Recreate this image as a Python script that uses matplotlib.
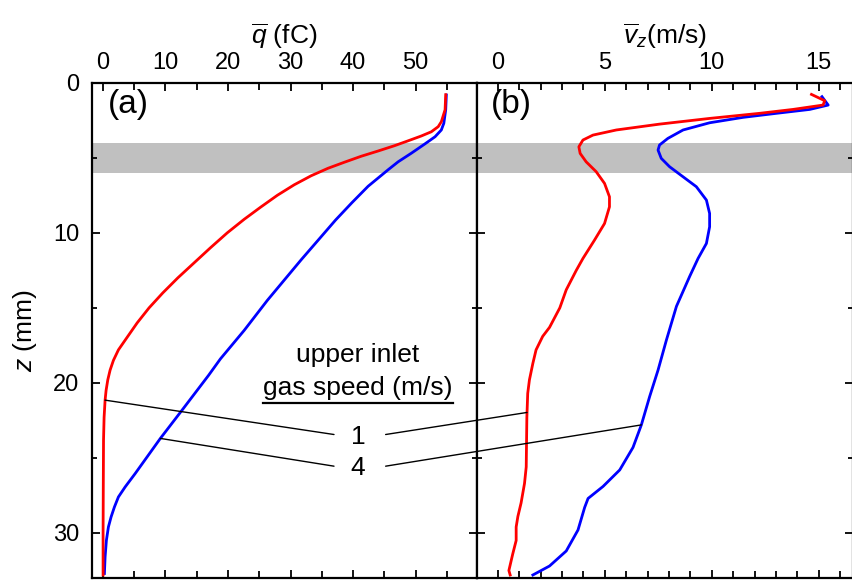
import numpy as np
import matplotlib.pyplot as plt
from matplotlib.patches import ConnectionPatch
from matplotlib.ticker import MultipleLocator

plt.rcParams['font.family'] = ['Liberation Sans', 'DejaVu Sans']
plt.rcParams['mathtext.fontset'] = 'custom'
plt.rcParams['mathtext.rm'] = 'Liberation Sans'
plt.rcParams['mathtext.it'] = 'Liberation Sans:italic'

# (a) mean charge vs height, upper inlet gas speed 1 m/s (red) and 4 m/s (blue)
z_q1 = [0.8, 1.8, 2.6, 2.93, 3.27, 3.55, 3.87, 4.2, 4.55, 4.9, 5.3, 5.7, 6.2, 6.8, 7.5,
        8.3, 9.1, 10.0, 11.0, 12.0, 13.0, 14.0, 15.0, 16.0, 17.15, 17.8, 18.5, 19.15,
        19.8, 20.5, 21.15, 22.3, 23.8, 27.0, 30.0, 32.8]
q1 = [54.8, 54.7, 54.1, 53.6, 52.5, 50.9, 48.8, 46.6, 44.0, 41.3, 38.6, 36.0, 33.3, 30.6, 27.9,
      25.2, 22.6, 19.9, 17.2, 14.6, 12.0, 9.6, 7.4, 5.5, 3.58, 2.5, 1.7, 1.17,
      0.8, 0.53, 0.37, 0.21, 0.12, 0.08, 0.05, 0.05]

z_q4 = [0.82, 1.8, 2.7, 3.15, 3.6, 4.1, 4.7, 5.27, 5.8, 6.9, 8.0, 9.15, 10.5, 11.8, 13.15,
        14.5, 16.5, 18.4, 19.5, 21.8, 23.7, 26.04, 26.93, 27.6, 28.27, 28.93, 29.6, 30.49,
        31.6, 32.7]
q4 = [54.9, 54.8, 54.5, 54.1, 53.1, 51.4, 49.3, 47.2, 45.6, 42.4, 39.8, 37.2, 34.4, 31.7, 29.0,
      26.3, 22.6, 18.8, 16.9, 12.7, 9.2, 5.18, 3.58, 2.5, 1.86, 1.33, 0.9, 0.58,
      0.37, 0.26]

# (b) mean axial velocity vs height
z_v1 = [0.78, 1.2, 1.49, 1.78, 2.04, 2.38, 2.76, 3.15, 3.49, 3.82, 4.27, 4.71, 5.27, 5.93,
        6.71, 7.6, 8.27, 9.38, 10.49, 11.71, 12.5, 13.8, 15.0, 16.3, 16.9, 17.8, 18.7,
        19.8, 20.7, 22.3, 25.6, 26.7, 28.0, 28.9, 29.6, 30.5, 31.4, 32.5, 32.8]
v1 = [14.66, 15.28, 15.2, 13.8, 12.24, 9.9, 7.56, 5.54, 4.45, 3.98, 3.79, 3.85, 4.13, 4.6,
      4.99, 5.22, 5.22, 4.99, 4.52, 3.98, 3.67, 3.2, 2.9, 2.42, 2.1, 1.79, 1.64,
      1.48, 1.4, 1.36, 1.33, 1.25, 1.09, 0.94, 0.86, 0.86, 0.7, 0.52, 0.58]

z_v4 = [0.93, 1.49, 1.78, 2.04, 2.31, 2.67, 3.15, 3.71, 4.15, 4.49, 5.04, 5.6, 6.27, 6.93,
        7.82, 8.71, 9.6, 10.71, 11.71, 12.9, 14.9, 17.15, 19.15, 20.9, 22.8, 24.3, 25.8,
        26.9, 27.7, 28.3, 29.8, 31.2, 32.2, 32.8]
v4 = [15.15, 15.44, 14.58, 13.02, 11.46, 9.9, 8.66, 7.95, 7.56, 7.49, 7.64, 8.03, 8.66, 9.28,
      9.75, 9.9, 9.9, 9.75, 9.36, 8.97, 8.35, 7.88, 7.49, 7.1, 6.71, 6.32, 5.7,
      4.92, 4.22, 4.06, 3.75, 3.2, 2.42, 1.64]

band = (4, 6)

# leader lines: label, label height, anchor height on (a) curve, on (b) curve
speed_labels = ['1', '4']
label_z = [24.04, 26.15]
anchor_za = [21.15, 23.7]
anchor_zb = [21.97, 22.8]

fig = plt.figure(figsize=(8.52, 5.81), dpi=100)
ax1 = fig.add_axes([91.7 / 852, 3 / 581, 385.3 / 852, 495.3 / 581])
ax2 = fig.add_axes([477 / 852, 3 / 581, 376 / 852, 495.3 / 581], sharey=ax1)

for ax in (ax1, ax2):
    ax.axhspan(*band, color='#c0c0c0', lw=0, zorder=0)
    ax.tick_params(axis='both', which='both', direction='in', top=True, bottom=True,
                   left=True, right=True, labeltop=True, labelbottom=False,
                   labelsize=17, width=1.3)
    ax.tick_params(axis='x', which='major', length=6, pad=6)
    ax.tick_params(axis='x', which='minor', length=5)
    ax.tick_params(axis='y', which='major', length=6, pad=9)
    ax.tick_params(axis='y', which='minor', length=3.6)
    ax.xaxis.set_label_position('top')
    for s in ax.spines.values():
        s.set_linewidth(1.6)

ax1.plot(q4, z_q4, color='#0000ff', lw=2)
ax1.plot(q1, z_q1, color='#ff0000', lw=2)
ax2.plot(v4, z_v4, color='#0000ff', lw=2)
ax2.plot(v1, z_v1, color='#ff0000', lw=2)

ax1.set_xlim(-1.77, 59.8)
ax2.set_xlim(-0.97, 16.6)
ax1.set_ylim(33, 0)
ax1.xaxis.set_major_locator(MultipleLocator(10))
ax1.xaxis.set_minor_locator(MultipleLocator(5))
ax2.xaxis.set_major_locator(MultipleLocator(5))
ax2.xaxis.set_minor_locator(MultipleLocator(1))
ax1.yaxis.set_major_locator(MultipleLocator(10))
ax1.yaxis.set_minor_locator(MultipleLocator(5))
ax2.tick_params(axis='y', labelleft=False)

ax1.set_xlabel(r'$\overline{q}$ (fC)', fontsize=19, labelpad=6)
ax2.set_xlabel(r'$\overline{v}_z$(m/s)', fontsize=19, labelpad=6)
ax1.set_ylabel(r'$z$ (mm)', fontsize=19, labelpad=10)

ax1.text(0.042, 0.955, '(a)', transform=ax1.transAxes, fontsize=24, va='center')
ax2.text(0.036, 0.955, '(b)', transform=ax2.transAxes, fontsize=24, va='center')

ax1.text(40.8, 18.6, 'upper inlet', fontsize=19, ha='center', va='baseline')
head = ax1.text(40.8, 20.8, 'gas speed (m/s)', fontsize=19, ha='center', va='baseline')
fig.canvas.draw()
bb = head.get_window_extent().transformed(ax1.transData.inverted())
ax1.plot([bb.x0, bb.x1], [21.35, 21.35], color='black', lw=1.6, clip_on=False)

curves_a = [(z_q1, q1), (z_q4, q4)]
curves_b = [(z_v1, v1), (z_v4, v4)]
for i, lab in enumerate(speed_labels):
    zl = label_z[i]
    ax1.text(40.8, zl, lab, fontsize=19, ha='center', va='baseline')
    za = anchor_za[i]
    zb = anchor_zb[i]
    qa = np.interp(za, *curves_a[i])
    vb = np.interp(zb, *curves_b[i])
    zmid = zl - 0.6
    fig.add_artist(ConnectionPatch(xyA=(qa, za), coordsA=ax1.transData,
                                   xyB=(36.95, zmid), coordsB=ax1.transData,
                                   color='black', lw=1))
    fig.add_artist(ConnectionPatch(xyA=(45.2, zmid), coordsA=ax1.transData,
                                   xyB=(vb, zb), coordsB=ax2.transData,
                                   color='black', lw=1))

fig.savefig('out.png', dpi=100)
